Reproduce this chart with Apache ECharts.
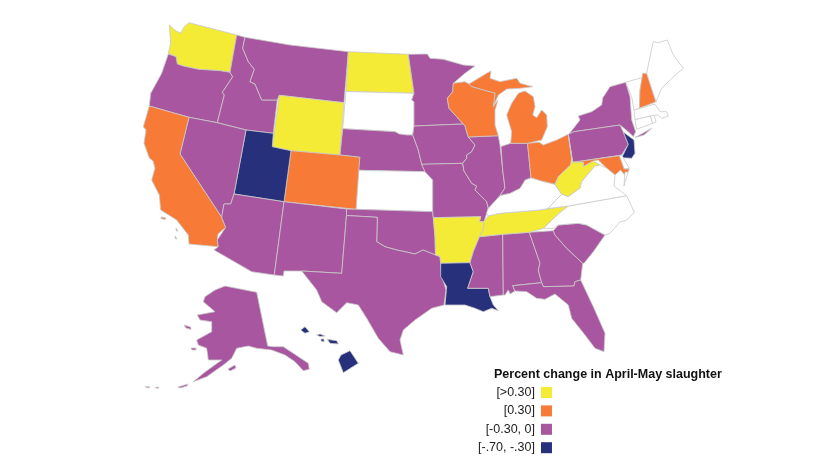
<!DOCTYPE html>
<html><head><meta charset="utf-8">
<style>html,body{margin:0;padding:0;background:#fff}#c{width:820px;height:461px}</style>
<script src="https://cdn.jsdelivr.net/npm/echarts@6/dist/echarts.min.js"></script>
</head><body><div id="c"></div>
<script>
const legendTitle = "Percent change in April-May slaughter";
const legendLabels = ["[-.70, -.30]", "[-0.30, 0]", "[0.30]", "[>0.30]"];
const legendColors = ["#27307B", "#A8569F", "#F77A37", "#F4EB37"];
// state names by legend class; states in no list have no data (white)
const classNavy = ["Utah","Louisiana","New Jersey","Hawaii"];
const classPurple = ["Oregon","Idaho","Montana","Nevada","Arizona","New Mexico","Texas","Oklahoma","Nebraska","Minnesota","Iowa","Missouri","Illinois","Indiana","Mississippi","Alabama","Georgia","South Carolina","Florida","Pennsylvania","New York","Alaska"];
const classOrange = ["California","Colorado","Wisconsin","Michigan","Ohio","Maryland","New Hampshire"];
const classYellow = ["Washington","Wyoming","North Dakota","Arkansas","Tennessee","West Virginia"];
const noData = ["South Dakota","Kansas","Kentucky","Virginia","North Carolina","Delaware","Vermont","Maine","Massachusetts","Connecticut","Rhode Island"];

// hand-traced base map outlines
const outlines = {
"Washington":[[[169.3,25],[176,31],[181,33],[184,27],[189,22.7],[236.7,35],[230,72.3],[220,70.7],[198.3,69.3],[183.3,66],[177.3,64],[176,56.7],[168.3,53.3],[170.7,43]]],
"Oregon":[[[168.3,54],[176,56.7],[177.3,64],[183.3,66],[198.3,69.3],[220,70.7],[230,72.3],[232.7,76.7],[227.3,85],[222.3,92.3],[224.3,95],[217.3,122.7],[189,117.3],[149.3,106],[150.7,93.3],[161.7,73.3]]],
"Idaho":[[[236.7,35],[245,37.3],[242.7,48.3],[248.3,61.7],[254.3,69.3],[250,81.7],[255,84],[261.7,100],[277.3,100],[273.3,133.3],[246,130],[217.3,122.7],[224.3,95],[222.3,92.3],[227.3,85],[232.7,76.7],[230,72.3]]],
"Montana":[[[245,37.3],[290,45],[348.3,51.7],[344,102.7],[279.3,95.3],[277.3,100],[261.7,100],[255,84],[250,81.7],[254.3,69.3],[248.3,61.7],[242.7,48.3]]],
"Wyoming":[[[279.3,95.3],[344,102.7],[340,155],[291,150.7],[272.3,146.7]]],
"North Dakota":[[[348.3,51.7],[408.3,54.3],[414,93.3],[346,91.5]]],
"South Dakota":[[[346,91.5],[414,93.3],[411.7,100],[414,101.7],[414,126],[412.7,135],[406.7,135],[399.3,134],[395,131.7],[342.7,128.7]]],
"Nebraska":[[[342.7,128.7],[395,131.7],[399.3,134],[406.7,135],[412.7,135],[414,138.3],[418.3,150],[421.7,164.3],[425,171.7],[358.3,170.3],[359.8,157.3],[340,155]]],
"Kansas":[[[358.3,170.3],[425,171.7],[432.7,180],[432.7,211.7],[356,209.3]]],
"Colorado":[[[291,150.7],[340,155],[359.8,157.3],[356,209.3],[284,201.7]]],
"Utah":[[[246,130],[273.3,133.3],[272.3,146.7],[291,150.7],[284,201.7],[234,194]]],
"Nevada":[[[189,117.3],[217.3,122.7],[246,130],[234,194],[230.7,204],[224,204],[221.7,217.3],[180,154]]],
"California":[[[149.3,106],[189,117.3],[180,154],[221.7,217.3],[225.7,227.3],[218,234],[217.3,240],[218.3,246.7],[189,244],[188.3,235],[176.7,220],[160.7,210],[159.3,195],[151.7,180],[155,168],[153,161],[149.3,158],[144,143.3],[146,130],[143.3,126.7]],[[161,217],[166,218],[165,219.5],[161,218.5]],[[176,228],[178,231],[176.5,231]],[[175,236],[177,239],[175.5,239]]],
"Arizona":[[[234,194],[284,201.7],[274.3,275],[251.7,271.7],[214,250],[218.3,246.7],[217.3,240],[225.7,227.3],[221.7,217.3],[224,204],[230.7,204]]],
"New Mexico":[[[284,201.7],[346.5,209],[346.5,215.5],[341.7,273.3],[301.7,271],[284,271],[283.3,276],[274.3,275]]],
"Oklahoma":[[[346.5,209],[356,209.3],[432.7,211.7],[433.3,217.7],[435,236.7],[435.5,255],[423,250],[415,254],[405,251.7],[396.7,250],[385,246.7],[376.7,241.7],[377.3,217.3],[346.5,215.5]]],
"Texas":[[[346.5,215.5],[377.3,217.3],[376.7,241.7],[385,246.7],[396.7,250],[405,251.7],[415,254],[423,250],[435.5,255],[440,256.5],[440.7,263.3],[441.7,275],[446,290],[444,305],[431.7,308.3],[415,320],[403.3,330],[400,340],[403.3,355],[390,351.7],[378.3,338.3],[366.7,318.3],[358.3,305],[346.7,302.7],[336.7,312.7],[321.7,301.7],[316.7,290],[301.7,271],[341.7,273.3]]],
"Minnesota":[[[408.3,54.3],[427.3,54],[430,58.3],[443.3,59.3],[463.3,65],[475,66],[465,73.3],[453.3,83.3],[452.7,91.7],[447.3,98.3],[449,108.3],[463.3,124],[414,126],[414,101.7],[411.7,100],[414,93.3]]],
"Iowa":[[[414,126],[463.3,124],[465,126],[468.3,137],[475,145],[471.7,151.7],[466.7,155],[466.7,158.3],[462.7,163.3],[421.7,164.3],[418.3,150],[414,138.3],[412.7,135]]],
"Missouri":[[[421.7,164.3],[462.7,163.3],[464,171],[471.7,183.3],[476.7,186],[475,190],[486.7,201.7],[488.3,208.3],[486.7,213.3],[484,221.7],[479.3,221.7],[480.7,216.7],[433.3,217.7],[432.7,211.7],[432.7,180],[425,171.7]]],
"Arkansas":[[[433.3,217.7],[480.7,216.7],[479.3,221.7],[484,221.7],[483.3,230],[479.5,236.7],[473.3,251.7],[470,262.7],[440.7,263.3],[440,256.5],[435.5,255],[435,236.7]]],
"Louisiana":[[[440.7,263.3],[470,262.7],[473.3,271.7],[467.7,288.3],[488.3,288.3],[490,296.7],[493.3,305],[498.3,310.7],[491.7,308.3],[483.3,311.7],[475,308.3],[465,305],[445,305],[446.7,286.7],[440.7,276.7]],],
"Mississippi":[[[479.5,236.7],[502.7,234.3],[503.3,295],[495,296],[490,296.7],[488.3,288.3],[467.7,288.3],[473.3,271.7],[470,262.7],[473.3,251.7]]],
"Alabama":[[[502.7,234.3],[529.3,232.3],[540,263.3],[538.3,270],[541.7,282.7],[512.7,285.7],[515,291],[510,294],[508.3,290],[505,295],[503.3,295]]],
"Georgia":[[[529.3,232.3],[553.3,230.7],[555,235],[566.7,248.3],[582.7,263.3],[580.7,280],[575,281.7],[574,286],[543.3,286.7],[541.7,282.7],[538.3,270],[540,263.3]]],
"South Carolina":[[[553.3,230.7],[558.3,225],[578.3,223.3],[586.7,225],[605,235],[593.3,251.7],[584,263.3],[582.7,263.3],[566.7,248.3],[555,235]]],
"Florida":[[[512.7,285.7],[541.7,282.7],[543.3,286.7],[574,286],[575,281.7],[580.7,280],[593.3,306.7],[605,333.3],[604,351.7],[595,348.3],[585,335],[571.7,318.3],[568.3,305],[555,294],[545,299.3],[536.7,298.3],[526.7,291.7],[515,291]]],
"North Carolina":[[[568.3,206],[626.7,195.7],[634.3,212.3],[626.7,220],[620,222],[610,233.3],[605,235],[586.7,225],[578.3,223.3],[558.3,225],[553.3,228.5],[543.3,228.3],[560,212.3]]],
"Tennessee":[[[488.3,216],[500,213.3],[540,210],[568.3,206],[560,212.3],[543.3,228.3],[529.3,232.3],[502.7,234.3],[479.5,236.7],[483.3,230],[484,221.7]]],
"Kentucky":[[[488.3,208.3],[500,195.5],[510,193.3],[520,188.3],[525,180],[531,177.7],[541.7,181],[555,184.3],[561.7,194.3],[556,200],[548,208.5],[540,210],[500,213.3],[488.3,216],[486.7,213.3]]],
"Illinois":[[[468.3,137],[498.3,135.7],[500,145],[502.7,170],[505,188],[500,195.5],[488.3,208.3],[486.7,201.7],[475,190],[476.7,186],[471.7,183.3],[464,171],[462.7,163.3],[466.7,158.3],[466.7,155],[471.7,151.7],[475,145]]],
"Indiana":[[[501,146.5],[510.7,143.3],[527.5,143.3],[531,177.7],[525,180],[520,188.3],[510,193.3],[500,195.5],[505,188],[502.7,170]]],
"Ohio":[[[527.5,143.3],[539.3,142.3],[543.3,145],[556.7,140],[568.3,134.3],[571.7,158.3],[570.7,165],[558.3,176.7],[555,184.3],[541.7,181],[531,177.7]]],
"Michigan":[[[510.7,143.3],[511.7,131.7],[506.7,115],[511.7,103.3],[518.3,93.3],[525,91],[533.3,96.7],[535,106.7],[532.7,115],[536.7,117.7],[541.7,110],[546.7,115],[547.3,126.7],[541.7,140],[527.5,143.3]],[[469,84],[486.7,73.3],[491,71],[490,78.3],[500,81.7],[516.7,78.3],[520,83.3],[532.7,86.7],[520,88.3],[506.7,89],[498.3,95],[493.3,106.7],[495,93.3],[471.7,86.7]]],
"Wisconsin":[[[453.3,83.3],[465,81.7],[469,84],[471.7,86.7],[495,93.3],[493.3,106.7],[498,100],[495,110],[495,125],[498.3,135.7],[468.3,137],[465,126],[463.3,124],[449,108.3],[447.3,98.3],[452.7,91.7]]],
"New York":[[[568.3,135],[580,120],[578.3,116],[591.7,111.7],[601.7,105],[602.7,98],[610,86.7],[625.7,82.3],[630,96.7],[631.7,120],[635.7,131.7],[633.3,136.7],[628.3,131.7],[620,125],[574,131.7]],[[635,137.5],[651.7,128.3],[644,135]]],
"Pennsylvania":[[[568.3,134.3],[574,131.7],[620,125],[623.3,132],[628.3,144.3],[621.7,155],[572.7,162.3]]],
"New Jersey":[[[623.3,132],[634,140],[635,153.3],[631.7,158.3],[621.7,157.7],[628.3,144.3]]],
"Delaware":[[[619.3,155.7],[621.7,155],[629.3,168.3],[624,169]]],
"Maryland":[[[572.7,162.3],[619.3,155.7],[624,169],[629.3,169],[626,176.7],[620.7,170],[615,175],[606.7,168.3],[598.3,160],[593.3,161],[583.3,166.7],[583.3,162.3]]],
"West Virginia":[[[568.3,134.3],[572.7,162.3],[583.3,162.3],[583.3,166.7],[593.3,161],[600,165],[595,166],[590,171.7],[581.7,181.7],[580,188.3],[568.3,196.7],[561.7,194.3],[555,184.3],[558.3,176.7],[570.7,165],[571.7,158.3]]],
"Virginia":[[[561.7,194.3],[568.3,196.7],[580,188.3],[581.7,181.7],[590,171.7],[595,166],[600,165],[606.7,168.3],[615,175],[614,186],[626.7,195.7],[568.3,206],[548,208.5],[556,200]],[[625,172],[628,172],[624,186]]],
"Vermont":[[[625.7,82.3],[642.7,77.3],[640,90],[639.3,108.3],[634,110],[631.7,96.7]]],
"New Hampshire":[[[642.7,73.3],[646.7,73.3],[656,101.7],[639.3,108.3],[640,90]]],
"Maine":[[[646.7,73.3],[650.7,53.3],[653.3,41.7],[658.3,42.7],[667.3,40],[673.3,55],[683.3,68.3],[671.7,78.3],[661.7,88.3],[656,101.7]]],
"Massachusetts":[[[634,110],[655,104],[660,111.7],[666.7,111.7],[668.3,116],[661.7,118.3],[658.3,115],[654,115.3],[635,119.7]]],
"Connecticut":[[[635,119.7],[650.5,116],[652.7,123.3],[636.7,129.3]]],
"Rhode Island":[[[650.5,116],[654,115.3],[656,121.7],[652.7,123.3]]],
"Alaska":[[[225,286],[256.7,292.3],[267.7,346],[273.3,346.7],[283.3,346.7],[308.3,363.3],[309.3,369.3],[303.3,370.7],[295,361.7],[285,355],[271.7,350],[256.7,348.3],[248.3,346],[236.7,348.3],[231.7,358.3],[223.3,365],[206.7,376.7],[193.3,381.7],[205,372],[221.7,360],[208.3,360],[206.7,348.3],[198.3,345],[196.7,340],[211.7,331.7],[211.7,321.7],[200,320],[197.3,315],[215,311.7],[203.3,301.7],[205,296.7],[215,290]],[[184,325],[190.7,327],[191,329.5],[186,328]],[[191,348],[196,348],[196,350],[192,350]],[[228,369],[235,365],[236,368],[230,371]],[[178,387],[188,384],[187,386],[180,388]],[[145,386.5],[150,387],[148,388]],[[155,387.5],[159,387],[158,388.5]]],
"Hawaii":[[[300.7,330],[305,326.7],[309.3,331.7],[305,333.3]],[[316.7,335],[320,334],[325,336],[320,336.5]],[[321,339],[324,339],[324,342],[321,341]],[[327.3,339.3],[336.7,340.7],[338.3,344],[330,343.3]],[[341,355],[350,350.7],[358.3,363.3],[343.3,372.7],[338.3,360]]]
};

const features = Object.keys(outlines).map(name => ({
  type:"Feature", properties:{name},
  geometry:{type:"MultiPolygon", coordinates: outlines[name].map(r => [r.map(p => [p[0], 461-p[1]])])}
}));
echarts.registerMap("usa", {type:"FeatureCollection", features});

const classes = [classNavy, classPurple, classOrange, classYellow];
const stateData = [];
classes.forEach((list,i) => list.forEach(name => stateData.push({name, value:i})));
noData.forEach(name => stateData.push({name, value:NaN}));

const chart = echarts.init(document.getElementById("c"), null, {renderer:"canvas"});
chart.setOption({
  animation:false,
  backgroundColor:"#fff",
  title:{text:legendTitle, left:494, top:368.5, padding:0,
    textStyle:{fontFamily:"Liberation Sans", fontWeight:"bold", fontSize:12.5, color:"#111"}},
  visualMap:{type:"piecewise", left:478, top:386, orient:"vertical", padding:0,
    itemWidth:11, itemHeight:11, itemGap:5.4, textGap:6, itemSymbol:"rect", selectedMode:false, hoverLink:false,
    textStyle:{fontFamily:"Liberation Sans", fontSize:12.5, color:"#222"},
    pieces: legendLabels.map((label,i)=>({value:i, label, color:legendColors[i]})),
    seriesIndex:0},
  series:[{type:"map", map:"usa", roam:false, silent:true, aspectScale:1,
    boundingCoords:[[0,461],[820,0]], left:0, top:0, width:820, height:461,
    label:{show:false}, emphasis:{disabled:true}, select:{disabled:true},
    itemStyle:{areaColor:"#fff", borderColor:"#c9c9c9", borderWidth:0.8},
    data:stateData}]
});
</script></body></html>
